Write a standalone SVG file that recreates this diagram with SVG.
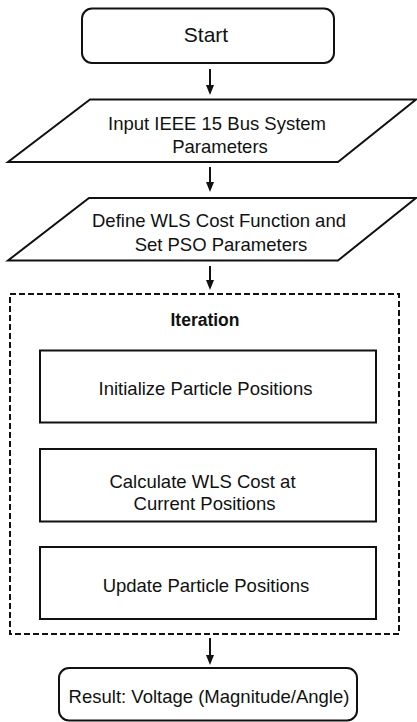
<svg xmlns="http://www.w3.org/2000/svg" width="417" height="722" viewBox="0 0 417 722">
  <style>
    .shape { fill: #ffffff; stroke: #111111; stroke-width: 2; }
    .dash { fill: none; stroke: #111111; stroke-width: 2; stroke-dasharray: 6 3; }
    .lbl { font-family: "Liberation Sans", Arial, sans-serif; font-size: 18.5px; fill: #111111; text-anchor: middle; }
    .big { font-size: 21px; }
    .bold { font-weight: bold; font-size: 17.5px; }
    .conn { stroke: #111111; stroke-width: 2; fill: none; }
  </style>
  <defs>
    <marker id="arr" markerUnits="userSpaceOnUse" viewBox="0 0 10 8" markerWidth="10" markerHeight="8" refX="0" refY="4" orient="auto">
      <path d="M0,0 L10,4 L0,8 z" fill="#111111"/>
    </marker>
  </defs>
  <rect width="417" height="722" fill="#ffffff"/>

  <g id="start">
    <rect class="shape" x="82" y="8.5" width="252" height="54.5" rx="10" ry="10"/>
    <text class="lbl big" x="206" y="42">Start</text>
  </g>

  <g id="input">
    <polygon class="shape" points="90,99.5 416,99.5 338,162 8,162"/>
    <text class="lbl" x="217" y="129.5">Input IEEE 15 Bus System</text>
    <text class="lbl" x="220" y="153">Parameters</text>
  </g>

  <g id="define">
    <polygon class="shape" points="89,198 416,198 338,260.5 8,260.5"/>
    <text class="lbl" x="219" y="226.5">Define WLS Cost Function and</text>
    <text class="lbl" x="221" y="250.5">Set PSO Parameters</text>
  </g>

  <g id="iteration">
    <rect class="dash" x="10" y="294" width="389" height="340"/>
    <text class="lbl bold" x="205" y="326">Iteration</text>
  </g>

  <g id="init">
    <rect class="shape" x="40" y="350.5" width="336" height="72"/>
    <text class="lbl" x="205.5" y="395">Initialize Particle Positions</text>
  </g>

  <g id="calc">
    <rect class="shape" x="40" y="449" width="336" height="72.5"/>
    <text class="lbl" x="202.5" y="487.5">Calculate WLS Cost at</text>
    <text class="lbl" x="204.5" y="509.5">Current Positions</text>
  </g>

  <g id="update">
    <rect class="shape" x="40" y="547" width="336" height="72"/>
    <text class="lbl" x="206" y="591.5">Update Particle Positions</text>
  </g>

  <g id="result">
    <rect class="shape" x="59" y="668" width="298" height="52.5" rx="10" ry="10"/>
    <text class="lbl" x="209" y="703">Result: Voltage (Magnitude/Angle)</text>
  </g>

  <g id="connectors">
    <line class="conn" x1="210" y1="69" x2="210" y2="85" marker-end="url(#arr)"/>
    <line class="conn" x1="210" y1="167" x2="210" y2="182" marker-end="url(#arr)"/>
    <line class="conn" x1="210" y1="266" x2="210" y2="280" marker-end="url(#arr)"/>
    <line class="conn" x1="210" y1="638" x2="210" y2="655" marker-end="url(#arr)"/>
  </g>
</svg>
